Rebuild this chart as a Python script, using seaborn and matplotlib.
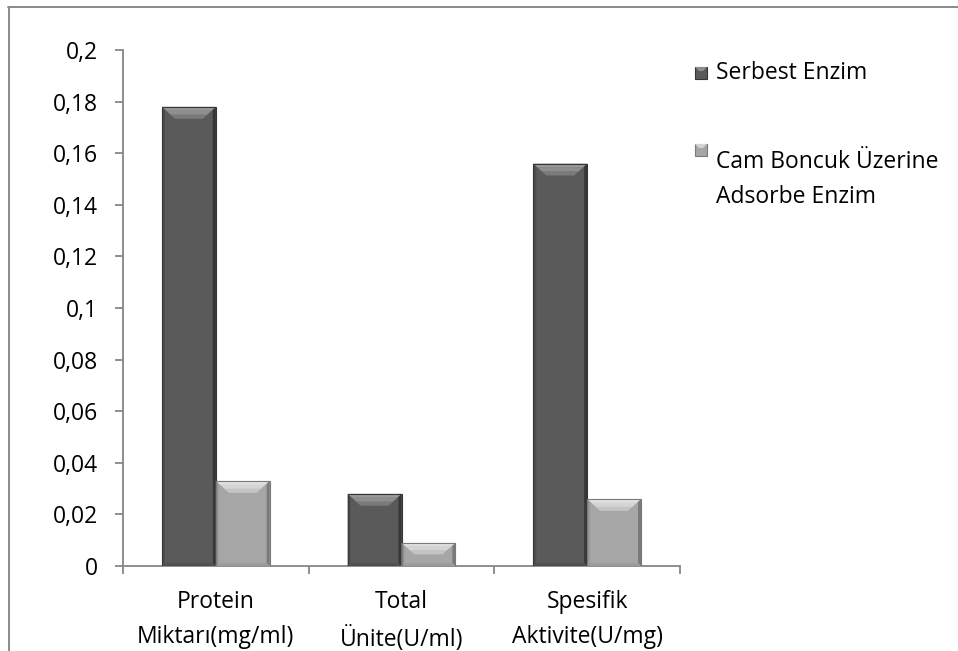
import matplotlib
matplotlib.use("Agg")
import matplotlib.pyplot as plt
from matplotlib.patches import Polygon, Rectangle
from matplotlib.lines import Line2D
import numpy as np
import pandas as pd
import seaborn as sns

categories = ["Protein\nMiktarı(mg/ml)", "Total\nÜnite(U/ml)", "Spesifik\nAktivite(U/mg)"]
series_names = ["Serbest Enzim", "Cam Boncuk Üzerine\nAdsorbe Enzim"]
serbest = [0.178, 0.028, 0.156]
adsorbe = [0.033, 0.009, 0.026]
y_ticks = [0, 0.02, 0.04, 0.06, 0.08, 0.1, 0.12, 0.14, 0.16, 0.18, 0.2]
y_tick_labels = ["0", "0,02", "0,04", "0,06", "0,08", "0,1", "0,12", "0,14", "0,16", "0,18", "0,2"]

df = pd.DataFrame({
    "kategori": categories * 2,
    "seri": [series_names[0]] * 3 + [series_names[1]] * 3,
    "deger": serbest + adsorbe,
})

sns.set_theme(style="white")
plt.rcParams["font.family"] = ["Open Sans", "DejaVu Sans"]

W, H = 958, 651
fig = plt.figure(figsize=(W / 100, H / 100), dpi=100)
ax = fig.add_axes([123 / W, 85 / H, (680 - 123) / W, 516 / H])

face = {series_names[0]: "#5a5a5a", series_names[1]: "#a6a6a6"}
sns.barplot(data=df, x="kategori", y="deger", hue="seri", palette=face,
            width=0.58, gap=0, ax=ax, legend=False, saturation=1,
            edgecolor="none", linewidth=0)

ax.set_xlim(-0.5, 2.5)
ax.set_ylim(0, 0.2)
ax.set_xlabel("")
ax.set_ylabel("")

axis_grey = "#868686"
for s in ["top", "right"]:
    ax.spines[s].set_visible(False)
for s in ["left", "bottom"]:
    ax.spines[s].set_color(axis_grey)
    ax.spines[s].set_linewidth(1.3)

ax.set_yticks(y_ticks)
ax.set_yticklabels(y_tick_labels)
ax.tick_params(axis="y", direction="out", length=5.8, width=1.3, color=axis_grey,
               pad=12, labelsize=16.5, labelcolor="black", left=True)
ax.set_xticks([0, 1, 2])
ax.set_xticklabels(categories, linespacing=1.62)
ax.tick_params(axis="x", which="major", length=0, pad=17, labelsize=16.5,
               labelcolor="black")
ax.set_xticks([-0.5, 0.5, 1.5, 2.5], minor=True)
ax.tick_params(axis="x", which="minor", direction="out", length=5.8, width=1.3,
               color=axis_grey, bottom=True)

# Bevelled look on each bar
shade = {
    "#5a5a5a": dict(top=["#7a7a7a", "#8e8e8e", "#9a9a9a"], left="#4d4d4d",
                    right="#363636", bottom="#505050"),
    "#a6a6a6": dict(top=["#c4c4c4", "#d4d4d4", "#e0e0e0"], left="#9a9a9a",
                    right="#7a7a7a", bottom="#9c9c9c"),
}
fig.canvas.draw()
to_px = ax.transData
to_data = ax.transData.inverted()


def poly(pts, color, z=3):
    d = to_data.transform(pts)
    ax.add_patch(Polygon(d, closed=True, facecolor=color, edgecolor="none", zorder=z))


bars = [p for p in ax.patches if isinstance(p, Rectangle) and p.get_height() > 0]
for bar in bars:
    fc = matplotlib.colors.to_hex(bar.get_facecolor())
    cols = shade.get(fc)
    if cols is None:
        continue
    x0, y0 = bar.get_x(), bar.get_y()
    x1, y1 = x0 + bar.get_width(), y0 + bar.get_height()
    (px0, py0), (px1, py1) = to_px.transform([(x0, y0), (x1, y1)])
    b = min(12.0, (py1 - py0) / 2.0)
    bx = 13.0
    s = 3.0
    # side strips
    poly([(px0, py0), (px0 + s, py0 + s), (px0 + s, py1 - s), (px0, py1)], cols["left"])
    poly([(px1, py0), (px1 - s, py0 + s), (px1 - s, py1 - s), (px1, py1)], cols["right"])
    poly([(px0, py0), (px1, py0), (px1 - s, py0 + s), (px0 + s, py0 + s)], cols["bottom"])
    # top highlight trapezoid, shaded in bands
    n = len(cols["top"])
    for k, c in enumerate(cols["top"]):
        f0 = k / n
        f1 = (k + 1) / n
        # band from depth (1-f1)*b to (1-f0)*b below the top edge
        d_hi = (1 - f1) * b
        d_lo = (1 - f0) * b
        ix_hi = bx * d_hi / b
        ix_lo = bx * d_lo / b
        poly([(px0 + ix_hi, py1 - d_hi), (px1 - ix_hi, py1 - d_hi),
              (px1 - ix_lo, py1 - d_lo), (px0 + ix_lo, py1 - d_lo)], c, z=4)
    ax.add_patch(Rectangle((x0, y0), x1 - x0, y1 - y0, facecolor="none",
                           edgecolor=cols["right"], linewidth=0.8, zorder=5))

# Legend
leg_y = [73, 150]
for name, yy in zip(series_names, leg_y):
    col = face[name]
    fig.patches.append(Rectangle(((695) / W, 1 - (yy + 6) / H), 12 / W, 12 / H,
                                 transform=fig.transFigure, facecolor=col,
                                 edgecolor=shade[col]["right"], linewidth=0.8))
    fig.patches.append(Polygon([(695 / W, 1 - (yy - 6) / H), (707 / W, 1 - (yy - 6) / H),
                                (703 / W, 1 - (yy - 2) / H), (699 / W, 1 - (yy - 2) / H)],
                               closed=True, transform=fig.transFigure,
                               facecolor=shade[col]["top"][1], edgecolor="none"))
    fig.text(716 / W, 1 - yy / H, name, ha="left", va="top" if "\n" in name else "center",
             fontsize=16.5, linespacing=1.6, color="black")

# Outer frame
fig.lines.append(Line2D([8 / W, 1], [1 - 6.5 / H, 1 - 6.5 / H], transform=fig.transFigure,
                        color="#8a8a8a", linewidth=1.4))
fig.lines.append(Line2D([8.5 / W, 8.5 / W], [0, 1 - 6.5 / H], transform=fig.transFigure,
                        color="#8a8a8a", linewidth=1.4))

fig.savefig("out.png", dpi=100, facecolor="white")
